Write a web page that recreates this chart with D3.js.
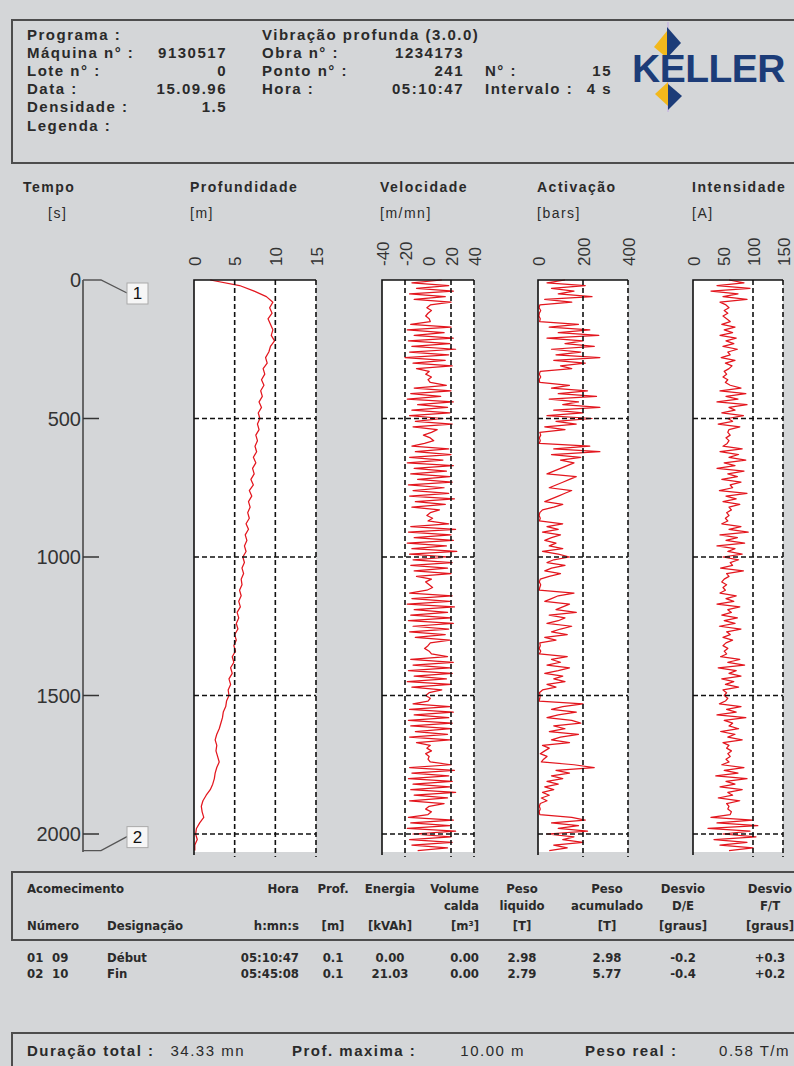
<!DOCTYPE html>
<html>
<head>
<meta charset="utf-8">
<script src="https://cdn.jsdelivr.net/npm/d3@7"></script>
<style>
  body { margin: 0; background: #d4d6d8; }
  svg text { font-family: "Liberation Sans", Arial, sans-serif; fill: #2a2a2a; }
  .hd { font-size: 15px; font-weight: bold; letter-spacing: 1.5px; }
  .lab { font-size: 14px; font-weight: bold; letter-spacing: 1.5px; }
  .tick { font-size: 17px; }
  .tb { font-family: "Liberation Sans Narrow", "DejaVu Sans Condensed", sans-serif; font-stretch: condensed; font-size: 13px; font-weight: bold; }
</style>
</head>
<body>
<div id="chart"></div>
<script>
// ---- header fields ----
var headLeft = [["Programa :", ""], ["Máquina n° :", "9130517"], ["Lote n° :", "0"], ["Data :", "15.09.96"], ["Densidade :", "1.5"], ["Legenda :", ""]];
var headMid = [["Vibração profunda (3.0.0)", ""], ["Obra n° :", "1234173"], ["Ponto n° :", "241"], ["Hora :", "05:10:47"]];
var headRight = [["", ""], ["", ""], ["N° :", "15"], ["Intervalo :", "4 s"]];

var DEPTH_STEP = 20;
var depth = [2.0, 5.6, 7.4, 8.9, 9.7, 9.3, 9.6, 9.1, 9.4, 9.7, 9.5, 9.9, 9.4, 9.2, 8.8, 9.0, 8.5, 8.7, 8.3, 8.6,
  8.2, 8.4, 8.0, 8.3, 7.9, 8.1, 7.8, 8.0, 7.6, 7.8, 7.5, 7.7, 7.3, 7.6, 7.2, 7.4, 7.0, 7.3, 6.8, 7.1,
  6.7, 6.9, 6.6, 6.8, 6.4, 6.7, 6.3, 6.5, 6.2, 6.4, 6.0, 6.2, 5.9, 6.1, 5.8, 5.9, 5.6, 5.8, 5.5, 5.7,
  5.3, 5.5, 5.2, 5.4, 5.0, 5.2, 4.9, 5.1, 4.7, 4.9, 4.5, 4.7, 4.3, 4.5, 4.2, 4.3, 4.0, 3.9, 3.6, 3.5,
  3.3, 3.1, 2.8, 2.6, 2.8, 2.7, 2.9, 3.1, 2.8, 2.6, 2.5, 2.3, 2.0, 1.5, 1.1, 0.9, 1.0, 1.2, 0.7, 0.3,
  0.2, 0.4, 0.1, 0.1];

var STEP = 10;
var velocity = [12, -14, 18, -10, 22, -16, 15, -12, 20,
  2, -1, 3, 0, -2, 1, 2,
  -15, 20, -18, 14, -12, 22, -17, 19, -14, 24, -16, 18, -20, 15, -13, 21, -10,
  1, -2, 3, 0, 2,
  16, -12, 20, -15, 11, -18, 22, -9, 17, -14, 19, -16, 13, -11, 21, -13, 8,
  3, -4, 2, 5, -3,
  -14, 18, -11, 20, -16, 13, -18, 22, -12, 16, -15, 19, -9, 21, -17, 14, -13, 18, -16, 23, -11, 15, -14, 10,
  2, -1, 4, 0,
  18, -15, 24, -17, 20, -12, 22, -18, 16, -14, 25, -16, 19, -13, 21, -15, 17, -12, 20, -10,
  3, -2, 1, 4, -1,
  -16, 21, -14, 19, -18, 23, -12, 17, -15, 20, -17, 22, -13, 18, -16, 15, -11, 19,
  2, 0, -3, 1, 3,
  17, -15, 22, -13, 19, -17, 21, -12, 16, -18, 20, -14, 12,
  1, -2, 2, 0,
  -13, 19, -16, 22, -12, 18, -17, 21, -15, 20, -11, 17, -16, 19, -10,
  2, -1, 3, -2, 1, 0, 2,
  20, -16, 23, -14, 18, -17, 21, -13, 19, -15, 24, -12, 17, -16, 14,
  1, -2, 3, 0,
  -17, 22, -15, 19, -18, 24, -13, 20, -16, 21, -14, 17, -9];

var activation = [120, 40, 210, 60, 160, 90, 240, 30, 150,
  8, 5, 12, 6, 4, 10, 7,
  180, 50, 230, 90, 270, 40, 200, 120, 250, 60, 190, 80, 275, 70, 210, 100, 150,
  10, 6, 12, 5, 8,
  140, 60, 220, 90, 260, 50, 180, 110, 275, 70, 200, 40, 240, 80, 170, 30, 120,
  8, 12, 6, 10, 5,
  230, 70, 275, 60, 190, 100, 160, 130, 100, 70, 40, 170, 140, 110, 80, 50, 150, 120, 90, 60, 30, 110, 70, 20,
  8, 5, 10, 6,
  110, 40, 90, 20, 100, 60, 30, 80, 50, 110, 20, 90, 140, 70, 40, 120, 60, 30, 100, 50,
  10, 6, 12, 8, 5,
  160, 90, 60, 30, 140, 110, 80, 170, 50, 120, 90, 40, 150, 100, 60, 130, 30, 80,
  8, 10, 5, 12, 6,
  130, 60, 100, 40, 140, 90, 30, 110, 70, 120, 40, 80, 20,
  6, 10, 8, 5,
  200, 110, 60, 170, 90, 40, 150, 190, 70, 120, 50, 180, 100, 60, 140,
  20, 50, 30, 10, 40, 25, 15,
  160, 250, 80, 140, 60, 110, 40, 90, 30, 70, 20, 50, 15, 40, 10,
  6, 10, 5, 8,
  150, 210, 60, 180, 90, 220, 40, 160, 110, 200, 70, 130, 50];

var intensity = [60, 85, 40, 95, 30, 75, 50, 90, 45,
  55, 60, 52, 58, 50, 56, 62,
  48, 70, 52, 66, 45, 72, 55, 68, 50, 74, 58, 62, 47, 70, 54, 65, 60,
  52, 56, 50, 58, 54,
  62, 80, 45, 88, 55, 75, 40, 90, 60, 70, 48, 84, 58, 66, 42, 78, 60,
  58, 62, 55, 60, 57,
  50, 82, 45, 76, 60, 88, 52, 70, 40, 85, 58, 74, 48, 80, 62, 66, 44, 90, 55, 72, 50, 78, 60, 64,
  56, 60, 54, 58,
  48, 80, 60, 92, 45, 74, 55, 86, 40, 70, 58, 82, 50, 76, 62, 66, 46, 84, 56, 60,
  52, 48, 56, 50, 54,
  45, 72, 55, 68, 40, 78, 58, 64, 48, 74, 52, 70, 44, 80, 56, 62, 50, 66,
  55, 50, 58, 52, 56,
  46, 78, 58, 86, 42, 72, 60, 80, 48, 68, 54, 76, 50,
  56, 52, 58, 54,
  44, 80, 56, 72, 40, 88, 52, 66, 60, 76, 46, 70, 58, 82, 50,
  60, 56, 64, 58, 62, 55, 60,
  48, 85, 52, 75, 38, 90, 55, 70, 45, 82, 58, 66, 42, 78, 56,
  60, 58, 64, 62,
  30, 100, 40, 108, 25, 95, 50, 105, 35, 90, 45, 100, 60];

var timeTicks = [0, 500, 1000, 1500, 2000];
var tEnd = 2065;
var eventMarks = [{ n: "1", t: 0 }, { n: "2", t: 2060 }];

// ---- event table ----
var colHead1 = ["Hora", "Prof.", "Energia", "Volume", "Peso", "Peso", "Desvio", "Desvio"];
var colHead2 = ["", "", "", "calda", "liquido", "acumulado", "D/E", "F/T"];
var colUnits = ["h:mn:s", "[m]", "[kVAh]", "[m³]", "[T]", "[T]", "[graus]", "[graus]"];
var eventRows = [
  ["01", "09", "Début", "05:10:47", "0.1", "0.00", "0.00", "2.98", "2.98", "-0.2", "+0.3"],
  ["02", "10", "Fin", "05:45:08", "0.1", "21.03", "0.00", "2.79", "5.77", "-0.4", "+0.2"]
];
var summary = [["Duração total :", "34.33 mn"], ["Prof. maxima :", "10.00 m"], ["Peso real :", "0.58 T/m"]];

// ---- drawing ----
var W = 794, H = 1066;
var svg = d3.select("#chart").append("svg").attr("width", W).attr("height", H);
svg.append("rect").attr("width", W).attr("height", H).attr("fill", "#d4d6d8");

// header box
svg.append("rect").attr("x", 12).attr("y", 20).attr("width", 800).attr("height", 143)
  .attr("fill", "none").attr("stroke", "#4d4d4d").attr("stroke-width", 2);

var rowY = [40, 58, 76, 94, 112, 131];
function headCol(rows, xLab, xVal) {
  rows.forEach(function(r, i) {
    svg.append("text").attr("class", "hd").attr("x", xLab).attr("y", rowY[i]).text(r[0]);
    svg.append("text").attr("class", "hd").attr("x", xVal).attr("y", rowY[i])
      .attr("text-anchor", "end").text(r[1]);
  });
}
headCol(headLeft, 27, 227);
headCol(headMid, 262, 464);
headCol(headRight, 485, 612);

// logo
var logo = svg.append("g");
logo.append("line").attr("x1", 668).attr("x2", 668).attr("y1", 22).attr("y2", 112)
  .attr("stroke", "#c9b8e0").attr("stroke-width", 1.5);
logo.append("polygon").attr("points", "654,47 667,31 667,58").attr("fill", "#f2b81c");
logo.append("polygon").attr("points", "667,27 681,43 667,58").attr("fill", "#1c3c78");
logo.append("polygon").attr("points", "655,94 668,82 668,106").attr("fill", "#f2b81c");
logo.append("polygon").attr("points", "668,84 682,96 668,110").attr("fill", "#1c3c78");
logo.append("text").attr("x", 632).attr("y", 82).attr("font-size", 39).attr("font-weight", "bold")
  .attr("letter-spacing", -0.5).style("fill", "#1c3c78").text("KELLER");

// time scale shared by all panels
var y = d3.scaleLinear().domain([0, 2000]).range([280, 834]);
var yTop = y(0), yBot = y(tEnd);

// column headings
var headings = [
  { name: "Tempo", unit: "[s]", x: 23, ux: 48 },
  { name: "Profundidade", unit: "[m]", x: 190, ux: 190 },
  { name: "Velocidade", unit: "[m/mn]", x: 380, ux: 380 },
  { name: "Activação", unit: "[bars]", x: 537, ux: 537 },
  { name: "Intensidade", unit: "[A]", x: 692, ux: 692 }
];
headings.forEach(function(h) {
  svg.append("text").attr("class", "lab").attr("x", h.x).attr("y", 192).text(h.name);
  svg.append("text").attr("class", "lab").attr("x", h.ux).attr("y", 218).style("font-weight", "normal").text(h.unit);
});

// time axis
var tAxis = svg.append("g");
tAxis.append("line").attr("x1", 83).attr("x2", 83).attr("y1", yTop).attr("y2", yBot)
  .attr("stroke", "#666").attr("stroke-width", 2);
tAxis.selectAll("line.tk").data(timeTicks.slice(1)).join("line").attr("class", "tk")
  .attr("x1", 83).attr("x2", 99).attr("y1", function(d) { return y(d); }).attr("y2", function(d) { return y(d); })
  .attr("stroke", "#333").attr("stroke-width", 1.5);
tAxis.selectAll("text").data(timeTicks).join("text")
  .attr("x", 81).attr("y", function(d) { return y(d); }).attr("dy", "0.35em")
  .attr("text-anchor", "end").attr("font-size", 20).style("fill", "#333").text(function(d) { return d; });

// event markers on the time axis
eventMarks.forEach(function(e, i) {
  var ty = Math.min(y(e.t), yBot);
  var by = i === 0 ? ty + 13 : ty - 14;
  tAxis.append("path").attr("d", "M83," + ty + "H101L127," + by)
    .attr("fill", "none").attr("stroke", "#555").attr("stroke-width", 1.3);
  tAxis.append("rect").attr("x", 127).attr("y", by - 10).attr("width", 21).attr("height", 21)
    .attr("fill", "#f6f6f6").attr("stroke", "#aaa");
  tAxis.append("text").attr("x", 137.5).attr("y", by).attr("dy", "0.36em").attr("text-anchor", "middle")
    .attr("font-size", 17).style("fill", "#111").text(e.n);
});

// the four recording panels
var panels = [
  { values: depth, step: DEPTH_STEP, domain: [0, 15], range: [194, 316], ticks: [0, 5, 10, 15], grid: [5, 10, 15] },
  { values: velocity, step: STEP, domain: [-40, 40], range: [382, 474], ticks: [-40, -20, 0, 20, 40], grid: [-20, 20, 40] },
  { values: activation, step: STEP, domain: [0, 400], range: [538, 628], ticks: [0, 200, 400], grid: [200, 400] },
  { values: intensity, step: STEP, domain: [0, 150], range: [693, 783], ticks: [0, 50, 100, 150], grid: [100, 150] }
];

panels.forEach(function(p) {
  var x = d3.scaleLinear().domain(p.domain).range(p.range);
  var g = svg.append("g");
  g.append("rect").attr("x", p.range[0]).attr("y", yTop).attr("width", p.range[1] - p.range[0])
    .attr("height", yBot - yTop).attr("fill", "#fff");

  // data trace
  var line = d3.line().x(function(d) { return x(d); }).y(function(d, i) { return y(i * p.step); });
  g.append("path").datum(p.values).attr("d", line).attr("fill", "none")
    .attr("stroke", "#e3161e").attr("stroke-width", 1.25).attr("stroke-linejoin", "round");

  // dashed grid
  g.selectAll("line.hg").data(timeTicks.slice(1)).join("line").attr("class", "hg")
    .attr("x1", p.range[0]).attr("x2", p.range[1])
    .attr("y1", function(d) { return y(d); }).attr("y2", function(d) { return y(d); })
    .attr("stroke", "#111").attr("stroke-width", 1.6).attr("stroke-dasharray", "5,3");
  g.selectAll("line.vg").data(p.grid).join("line").attr("class", "vg")
    .attr("x1", function(d) { return x(d); }).attr("x2", function(d) { return x(d); })
    .attr("y1", yTop).attr("y2", yBot + 5)
    .attr("stroke", "#111").attr("stroke-width", 1.6).attr("stroke-dasharray", "5,3");

  // solid left and top frame
  g.append("path").attr("d", "M" + p.range[0] + "," + (yBot + 3) + "V" + yTop + "H" + p.range[1])
    .attr("fill", "none").attr("stroke", "#111").attr("stroke-width", 1.6);

  // rotated tick labels above the panel
  var ax = g.append("g").attr("transform", "translate(0,266)")
    .call(d3.axisTop(x).tickValues(p.ticks).tickSize(0).tickFormat(function(d) { return String(d); }));
  ax.select(".domain").remove();
  ax.attr("font-family", null).attr("font-size", null);
  ax.selectAll("text").attr("class", "tick").attr("transform", "rotate(-90)")
    .attr("text-anchor", "start").attr("x", 0).attr("y", 0).attr("dy", "0.36em").style("fill", "#333");
});

// event table
svg.append("rect").attr("x", 12).attr("y", 872).attr("width", 800).attr("height", 68)
  .attr("fill", "none").attr("stroke", "#4d4d4d").attr("stroke-width", 2);
var colX = [299, 333, 390, 479, 522, 607, 683, 770];
var colAnchor = ["end", "middle", "middle", "end", "middle", "middle", "middle", "middle"];
svg.append("text").attr("class", "tb").attr("x", 27).attr("y", 893).text("Acomecimento");
svg.append("text").attr("class", "tb").attr("x", 27).attr("y", 930).text("Número");
svg.append("text").attr("class", "tb").attr("x", 107).attr("y", 930).text("Designação");
colHead1.forEach(function(h, i) {
  svg.append("text").attr("class", "tb").attr("x", colX[i]).attr("y", 893).attr("text-anchor", colAnchor[i]).text(h);
  svg.append("text").attr("class", "tb").attr("x", colX[i]).attr("y", 910).attr("text-anchor", colAnchor[i]).text(colHead2[i]);
  svg.append("text").attr("class", "tb").attr("x", colX[i]).attr("y", 930).attr("text-anchor", colAnchor[i]).text(colUnits[i]);
});
eventRows.forEach(function(r, j) {
  var ry = 962 + j * 16;
  svg.append("text").attr("class", "tb").attr("x", 27).attr("y", ry).text(r[0]);
  svg.append("text").attr("class", "tb").attr("x", 52).attr("y", ry).text(r[1]);
  svg.append("text").attr("class", "tb").attr("x", 107).attr("y", ry).text(r[2]);
  r.slice(3).forEach(function(v, i) {
    svg.append("text").attr("class", "tb").attr("x", colX[i]).attr("y", ry).attr("text-anchor", colAnchor[i]).text(v);
  });
});

// summary line
svg.append("rect").attr("x", 12).attr("y", 1033).attr("width", 800).attr("height", 40)
  .attr("fill", "none").attr("stroke", "#4d4d4d").attr("stroke-width", 2);
var sumLabX = [27, 292, 585], sumValX = [245, 525, 790];
summary.forEach(function(s, i) {
  svg.append("text").attr("class", "hd").attr("x", sumLabX[i]).attr("y", 1056).text(s[0]);
  svg.append("text").attr("class", "hd").attr("x", sumValX[i]).attr("y", 1056).attr("text-anchor", "end")
    .style("font-weight", "normal").text(s[1]);
});
</script>
</body>
</html>
